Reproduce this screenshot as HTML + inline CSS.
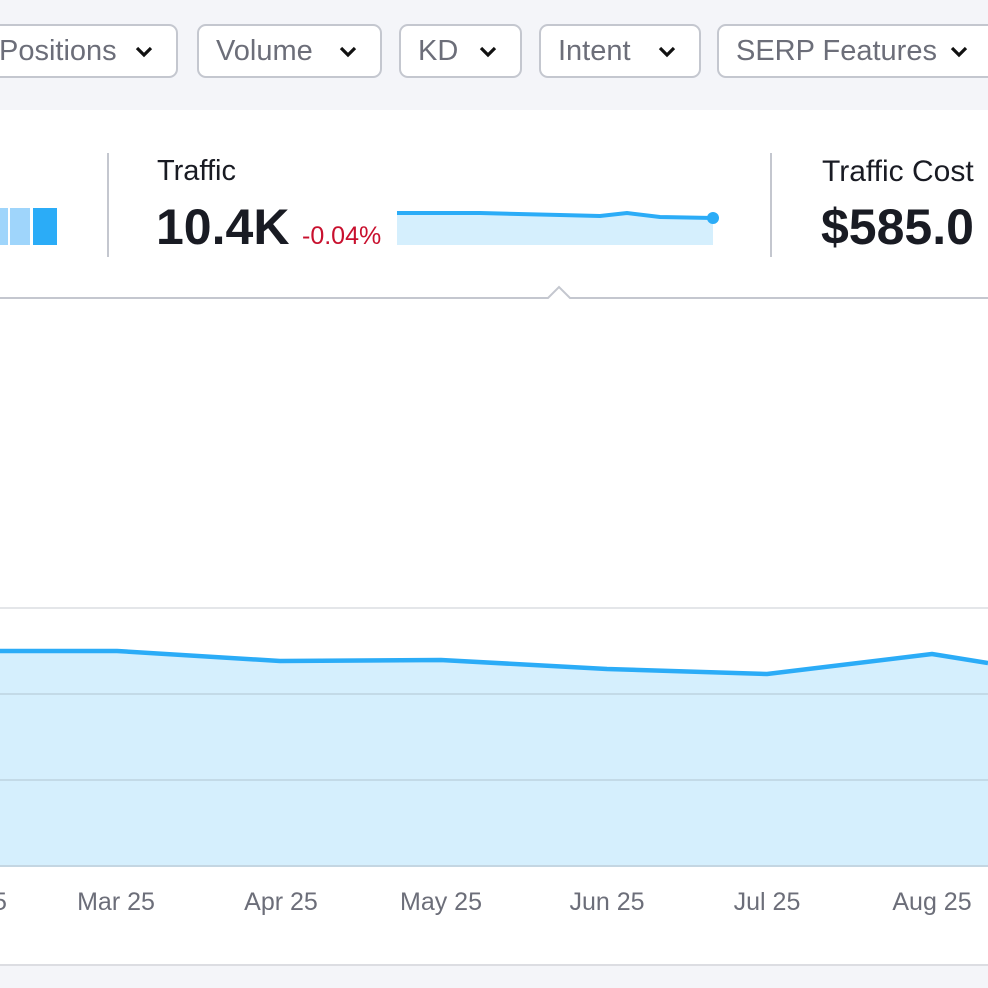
<!DOCTYPE html>
<html><head><style>
body{margin:0;width:988px;height:988px;overflow:hidden;background:#f4f5f9;font-family:"Liberation Sans",sans-serif;position:relative}
.btn{position:absolute;top:24px;height:54px;border:2px solid #c4c7cf;border-radius:9px;background:#fff;box-sizing:border-box;font-size:29px;color:#6c6e79;line-height:50px;padding-left:17px}
.btn svg{position:absolute;right:22px;top:19px}
.panel{position:absolute;left:-2px;top:110px;width:992px;height:854px;background:#fff;border-bottom:2px solid #dcdde2}
.t{position:absolute;white-space:nowrap}
</style></head><body>
<div class="btn" style="left:-20px;width:198px">Positions<svg width="20" height="14"><path d="M3 3l7 7 7-7" stroke="#111" stroke-width="3.2" fill="none"/></svg></div>
<div class="btn" style="left:197px;width:185px">Volume<svg width="20" height="14"><path d="M3 3l7 7 7-7" stroke="#111" stroke-width="3.2" fill="none"/></svg></div>
<div class="btn" style="left:399px;width:123px">KD<svg width="20" height="14"><path d="M3 3l7 7 7-7" stroke="#111" stroke-width="3.2" fill="none"/></svg></div>
<div class="btn" style="left:539px;width:162px">Intent<svg width="20" height="14"><path d="M3 3l7 7 7-7" stroke="#111" stroke-width="3.2" fill="none"/></svg></div>
<div class="btn" style="left:717px;width:290px">SERP Features<svg width="20" height="14" style="right:36px"><path d="M3 3l7 7 7-7" stroke="#111" stroke-width="3.2" fill="none"/></svg></div>
<div class="panel"></div>
<svg width="988" height="988" style="position:absolute;left:0;top:0">
<rect x="0" y="208" width="8" height="37" fill="#9fd5fb"/>
<rect x="10" y="208" width="20" height="37" fill="#9fd5fb"/>
<rect x="33" y="208" width="24" height="37" fill="#2bacf7"/>
<line x1="108" y1="153" x2="108" y2="257" stroke="#c4c7cf" stroke-width="2"/>
<line x1="771" y1="153" x2="771" y2="257" stroke="#c4c7cf" stroke-width="2"/>
<polygon points="397,213 480,213 560,215 600,216 627,213 660,217 713,218 713,245 397,245" fill="#d5effd"/>
<polyline points="397,213 480,213 560,215 600,216 627,213 660,217 713,218" fill="none" stroke="#2bacf7" stroke-width="4"/>
<circle cx="713" cy="218" r="6" fill="#2bacf7"/>
<path d="M0 298H548L559 287L570 298H988" fill="none" stroke="#c4c7cf" stroke-width="2"/>
<polygon points="0,651 117,651 280,661 441,660 607,669 767,674 932,654 988,663 988,866 0,866" fill="#d5effd"/>
<line x1="0" y1="608" x2="988" y2="608" stroke="#dcdde2" stroke-width="1.5"/>
<line x1="0" y1="694" x2="988" y2="694" stroke="#bdd3e0" stroke-width="1.5"/>
<line x1="0" y1="780" x2="988" y2="780" stroke="#bdd3e0" stroke-width="1.5"/>
<line x1="0" y1="866" x2="988" y2="866" stroke="#c4d6e2" stroke-width="2"/>
<polyline points="0,651 117,651 280,661 441,660 607,669 767,674 932,654 988,663" fill="none" stroke="#2bacf7" stroke-width="4.5" stroke-linejoin="round"/>
<g font-family="Liberation Sans" font-size="25" fill="#6c6e79" text-anchor="middle">
<text x="0" y="910">5</text><text x="116" y="910">Mar 25</text><text x="281" y="910">Apr 25</text><text x="441" y="910">May 25</text><text x="607" y="910">Jun 25</text><text x="767" y="910">Jul 25</text><text x="932" y="910">Aug 25</text>
</g>
</svg>
<div class="t" style="left:157px;top:155px;font-size:29px;color:#191b23">Traffic</div>
<div class="t" style="left:156px;top:198px;font-size:50px;font-weight:bold;color:#191b23">10.4K</div>
<div class="t" style="left:302px;top:222px;font-size:25px;color:#c8102e">-0.04%</div>
<div class="t" style="left:822px;top:155px;font-size:30px;color:#191b23">Traffic Cost</div>
<div class="t" style="left:821px;top:198px;font-size:50px;font-weight:bold;color:#191b23">$585.0</div>
</body></html>
